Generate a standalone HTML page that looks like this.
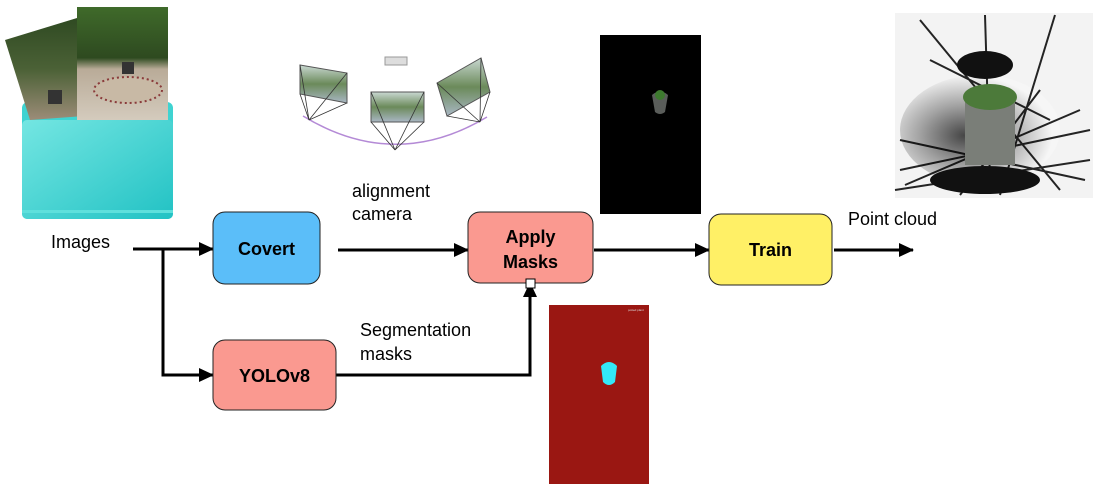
<!DOCTYPE html>
<html><head><meta charset="utf-8"><style>
body{margin:0;background:#fff;width:1099px;height:490px;overflow:hidden;font-family:"Liberation Sans",Arial,sans-serif}
</style></head><body>
<svg width="1099" height="490" viewBox="0 0 1099 490" xmlns="http://www.w3.org/2000/svg" font-family="Liberation Sans, Arial, sans-serif">
<defs>
<linearGradient id="fold" x1="0" y1="0" x2="1" y2="1"><stop offset="0" stop-color="#74e6e2"/><stop offset="1" stop-color="#22c2c4"/></linearGradient>
<linearGradient id="ph1" x1="0" y1="0" x2="0" y2="1"><stop offset="0" stop-color="#2f4a22"/><stop offset="0.5" stop-color="#4b6136"/><stop offset="1" stop-color="#9c8c78"/></linearGradient>
<linearGradient id="ph2" x1="0" y1="0" x2="0" y2="1"><stop offset="0" stop-color="#3f6a2a"/><stop offset="0.45" stop-color="#2e4a20"/><stop offset="0.55" stop-color="#b9ab98"/><stop offset="1" stop-color="#d4cbbd"/></linearGradient>
<radialGradient id="pc" cx="0.4" cy="0.55" r="0.55"><stop offset="0" stop-color="#333"/><stop offset="0.5" stop-color="#999"/><stop offset="1" stop-color="#f6f6f6"/></radialGradient>
<linearGradient id="cam" x1="0" y1="0" x2="0" y2="1"><stop offset="0" stop-color="#c9d8d2"/><stop offset="0.5" stop-color="#6b8a5a"/><stop offset="1" stop-color="#a9b7c4"/></linearGradient>
<marker id="ah" markerWidth="15" markerHeight="14" refX="14" refY="7" orient="auto" markerUnits="userSpaceOnUse"><path d="M0,0 L15,7 L0,14 Z" fill="#000"/></marker>
</defs>
<!-- folder -->
<rect x="22" y="102" width="151" height="117" rx="6" fill="#3fd3d1"/>
<polygon points="5,40 77,18 98,115 30,120" fill="url(#ph1)"/>
<rect x="77" y="7" width="91" height="113" fill="url(#ph2)"/>
<ellipse cx="128" cy="90" rx="34" ry="13" fill="#c8b9a5" stroke="#8a3a3a" stroke-width="2" stroke-dasharray="2,3"/>
<rect x="122" y="62" width="12" height="12" fill="#333"/>
<rect x="48" y="90" width="14" height="14" fill="#333"/>
<rect x="22" y="120" width="151" height="99" rx="5" fill="url(#fold)"/>
<rect x="22" y="210" width="151" height="3" fill="#5ee0dc"/>
<!-- cameras -->
<path d="M303,116 Q395,172 487,117" fill="none" stroke="#b48ad6" stroke-width="1.5"/>
<rect x="385" y="57" width="22" height="8" fill="#ddd" stroke="#999"/>
<polygon points="300,65 347,73 347,103 300,94" fill="url(#cam)" stroke="#555"/>
<rect x="371" y="92" width="53" height="30" fill="url(#cam)" stroke="#555"/>
<polygon points="437,83 481,58 490,92 447,116" fill="url(#cam)" stroke="#555"/>
<g stroke="#333" stroke-width="0.8" fill="none">
<path d="M309,120 L300,65 M309,120 L347,73 M309,120 L347,103 M309,120 L300,94"/>
<path d="M395,150 L371,92 M395,150 L424,92 M395,150 L424,122 M395,150 L371,122"/>
<path d="M480,122 L437,83 M480,122 L481,58 M480,122 L490,92 M480,122 L447,116"/>
</g>
<!-- black image -->
<rect x="600" y="35" width="101" height="179" fill="#000"/>
<path d="M652,95 Q660,88 668,95 L665,112 Q660,116 655,112 Z" fill="#5a5d5a"/>
<circle cx="660" cy="95" r="5" fill="#3d7a2e"/>
<!-- red image -->
<rect x="549" y="305" width="100" height="179" fill="#9a1712"/>
<path d="M601,366 Q609,358 617,366 L615,382 Q609,388 603,382 Z" fill="#33e8f8"/>
<text x="628" y="311" font-size="3" fill="#ddd">potted plant</text>
<!-- point cloud -->
<rect x="895" y="13" width="198" height="185" fill="#f3f3f3"/>
<ellipse cx="980" cy="130" rx="80" ry="55" fill="url(#pc)" opacity="0.9"/>
<g stroke="#000" stroke-width="2" opacity="0.85">
<path d="M900,170 L1090,130 M900,140 L1085,180 M920,20 L1060,190 M1055,15 L1000,195 M985,15 L990,180 M895,190 L1090,160 M930,60 L1050,120 M905,185 L1080,110 M960,195 L1040,90"/>
</g>
<ellipse cx="985" cy="180" rx="55" ry="14" fill="#111"/>
<ellipse cx="985" cy="65" rx="28" ry="14" fill="#111"/>
<rect x="965" y="100" width="50" height="65" fill="#7a7e78"/>
<ellipse cx="990" cy="97" rx="27" ry="13" fill="#4c7a3a"/>
<!-- connectors -->
<g stroke="#000" stroke-width="3" fill="none">
<line x1="133" y1="249" x2="213" y2="249" marker-end="url(#ah)"/>
<polyline points="163,249 163,375 213,375" marker-end="url(#ah)"/>
<line x1="338" y1="250" x2="468" y2="250" marker-end="url(#ah)"/>
<line x1="594" y1="250" x2="709" y2="250" marker-end="url(#ah)"/>
<line x1="834" y1="250" x2="913" y2="250" marker-end="url(#ah)"/>
<polyline points="336,375 530,375 530,283" marker-end="url(#ah)"/>
</g>
<!-- boxes -->
<rect x="213" y="212" width="107" height="72" rx="12" fill="#5bbef9" stroke="#222" stroke-width="1"/>
<text x="266.5" y="255" font-size="18" font-weight="bold" text-anchor="middle">Covert</text>
<rect x="213" y="340" width="123" height="70" rx="12" fill="#fa9990" stroke="#222" stroke-width="1"/>
<text x="274.5" y="382" font-size="18" font-weight="bold" text-anchor="middle">YOLOv8</text>
<rect x="468" y="212" width="125" height="71" rx="12" fill="#fa9990" stroke="#222" stroke-width="1"/>
<text x="530.5" y="243" font-size="18" font-weight="bold" text-anchor="middle">Apply</text>
<text x="530.5" y="268" font-size="18" font-weight="bold" text-anchor="middle">Masks</text>
<rect x="526" y="279" width="9" height="9" fill="#fff" stroke="#000"/>
<rect x="709" y="214" width="123" height="71" rx="12" fill="#fff066" stroke="#222" stroke-width="1"/>
<text x="770.5" y="256" font-size="18" font-weight="bold" text-anchor="middle">Train</text>
<!-- labels -->
<g font-size="18" fill="#000">
<text x="51" y="248">Images</text>
<text x="352" y="197">alignment</text>
<text x="352" y="220">camera</text>
<text x="360" y="336">Segmentation</text>
<text x="360" y="360">masks</text>
<text x="848" y="225">Point cloud</text>
</g>
</svg>
</body></html>
